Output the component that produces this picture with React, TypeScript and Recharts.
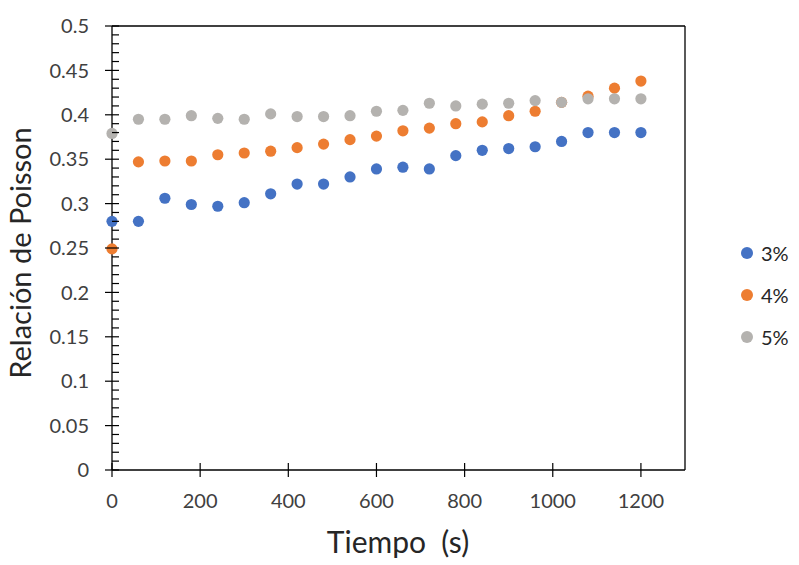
import {
  ScatterChart,
  Scatter,
  XAxis,
  YAxis,
  ReferenceLine,
  Label,
} from 'recharts'

const times = [0, 60, 120, 180, 240, 300, 360, 420, 480, 540, 600, 660, 720, 780, 840, 900, 960, 1020, 1080, 1140, 1200]
const poisson3 = [0.28, 0.28, 0.306, 0.299, 0.297, 0.301, 0.311, 0.322, 0.322, 0.33, 0.339, 0.341, 0.339, 0.354, 0.36, 0.362, 0.364, 0.37, 0.38, 0.38, 0.38]
const poisson4 = [0.249, 0.347, 0.348, 0.348, 0.355, 0.357, 0.359, 0.363, 0.367, 0.372, 0.376, 0.382, 0.385, 0.39, 0.392, 0.399, 0.404, 0.414, 0.421, 0.43, 0.438]
const poisson5 = [0.379, 0.395, 0.395, 0.399, 0.396, 0.395, 0.401, 0.398, 0.398, 0.399, 0.404, 0.405, 0.413, 0.41, 0.412, 0.413, 0.416, 0.414, 0.418, 0.418, 0.418]

const seriesNames = ['3%', '4%', '5%']
const seriesColors = ['#4472C4', '#ED7D31', '#B4B2AF']

const xTicks = [0, 200, 400, 600, 800, 1000, 1200]
const yMajorTicks = [0, 0.05, 0.1, 0.15, 0.2, 0.25, 0.3, 0.35, 0.4, 0.45, 0.5]
// minor ticks every 0.01
const yTicks = Array.from({ length: 51 }, (_, i) => i / 100)

const W = 799
const H = 565
const PL = 112
const PB = 470

const tickFont = 'Lato, "Noto Sans", sans-serif'

const toPoints = (vals: number[]) => times.map((t, i) => ({ t, v: vals[i] }))
const seriesData = [toPoints(poisson3), toPoints(poisson4), toPoints(poisson5)]

function YTick(props: any) {
  const { y, payload } = props
  const v = payload.value as number
  const major = yMajorTicks.some((m) => Math.abs(m - v) < 1e-6)
  return (
    <g>
      <line x1={major ? PL - 7 : PL} x2={PL + 7} y1={y} y2={y} stroke="#000" strokeWidth={1.2} />
      {major && (
        <text x={89} y={y} dy="0.36em" textAnchor="end" fontFamily={tickFont} fontSize={20} fill="#404040">
          {String(Number(v.toFixed(2)))}
        </text>
      )}
    </g>
  )
}

function XTick(props: any) {
  const { x, payload } = props
  return (
    <g>
      <line x1={x} x2={x} y1={PB - 7} y2={PB + 7} stroke="#000" strokeWidth={1.2} />
      <text x={x} y={508} textAnchor="middle" fontFamily={tickFont} fontSize={20} fill="#404040">
        {payload.value}
      </text>
    </g>
  )
}

function Dot(color: string) {
  return (p: any) => <circle cx={p.cx} cy={p.cy} r={5.6} fill={color} />
}

export default function App() {
  return (
    <div style={{ position: 'relative', width: W, height: H, background: '#fff' }}>
      <style>{'body{margin:0}'}</style>
      <ScatterChart width={W} height={H} margin={{ top: 26, right: 114, left: 0, bottom: 0 }}>
        <XAxis
          type="number"
          dataKey="t"
          domain={[0, 1300]}
          ticks={xTicks}
          interval={0}
          height={95}
          tick={<XTick />}
          tickLine={false}
          axisLine={{ stroke: '#000', strokeWidth: 1.3 }}
        >
          <Label
            content={() => (
              <text x={398} y={553} textAnchor="middle" fontFamily={tickFont} fontSize={30} fill="#262626" style={{ whiteSpace: 'pre' }}>
                {'Tiempo  (s)'}
              </text>
            )}
          />
        </XAxis>
        <YAxis
          type="number"
          dataKey="v"
          domain={[0, 0.5]}
          ticks={yTicks}
          interval={0}
          width={PL}
          tick={<YTick />}
          tickLine={false}
          axisLine={{ stroke: '#000', strokeWidth: 1.3 }}
        >
          <Label
            content={() => (
              <text
                x={31}
                y={253}
                transform="rotate(-90 31 253)"
                textAnchor="middle"
                fontFamily={tickFont}
                fontSize={29}
                fill="#262626"
              >
                Relación de Poisson
              </text>
            )}
          />
        </YAxis>
        <ReferenceLine y={0.5} stroke="#000" strokeWidth={1.3} />
        <ReferenceLine x={1300} stroke="#000" strokeWidth={1.3} />
        {seriesData.map((d, i) => (
          <Scatter
            key={seriesNames[i]}
            name={seriesNames[i]}
            data={d}
            fill={seriesColors[i]}
            shape={Dot(seriesColors[i])}
            isAnimationActive={false}
          />
        ))}
      </ScatterChart>
      <div style={{ position: 'absolute', left: 741, top: 232, fontFamily: tickFont, fontSize: 20, color: '#262626' }}>
        {seriesNames.map((n, i) => (
          <div key={n} style={{ display: 'flex', alignItems: 'center', height: 42 }}>
            <span
              style={{ width: 12, height: 12, borderRadius: 6, background: seriesColors[i], marginRight: 8, display: 'inline-block' }}
            />
            {n}
          </div>
        ))}
      </div>
    </div>
  )
}
